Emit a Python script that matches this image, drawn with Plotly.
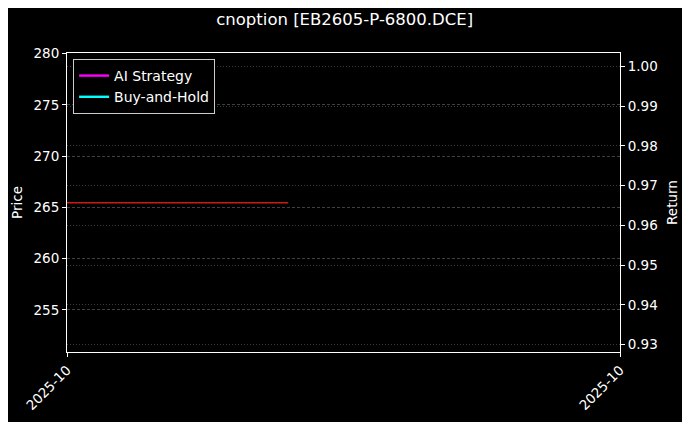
import plotly.graph_objects as go

# ---- data ----
dates = ["2025-10-20", "2025-10-21", "2025-10-22", "2025-10-23", "2025-10-24", "2025-10-25"]
price_dates = dates[:3]
price_values = [265.45, 265.45, 265.45]
ai_strategy = [None, None, None, None, None, None]
buy_and_hold = [None, None, None, None, None, None]
price_ticks = [255, 260, 265, 270, 275, 280]
return_ticks = [0.93, 0.94, 0.95, 0.96, 0.97, 0.98, 0.99, 1.00]
x_tick_text = ["2025-10", "2025-10"]
title = "cnoption [EB2605-P-6800.DCE]"

fig = go.Figure()
fig.add_trace(go.Scatter(x=dates, y=ai_strategy, name="AI Strategy", mode="lines",
                         line=dict(color="#ff00ff", width=2.4), yaxis="y2"))
fig.add_trace(go.Scatter(x=dates, y=buy_and_hold, name="Buy-and-Hold", mode="lines",
                         line=dict(color="#00ffff", width=2.4), yaxis="y2"))
fig.add_trace(go.Scatter(x=price_dates, y=price_values, name="Price", mode="lines",
                         line=dict(color="#d01818", width=1.5), showlegend=False))

FS = 13.5
font = dict(family="DejaVu Sans", size=FS, color="white")
# page body has an 8px default margin; compensate so the plot sits where the reference has it
fig.update_layout(
    width=690, height=422,
    paper_bgcolor="#000000", plot_bgcolor="#000000",
    font=font,
    margin=dict(l=59, r=78, t=45, b=78, autoexpand=False),
    title=dict(text=title, x=0.488, xanchor="center", y=0.974, yanchor="middle",
               font=dict(family="DejaVu Sans", size=16.5, color="white")),
    showlegend=True,
    legend=dict(x=0.011, y=0.98, xanchor="left", yanchor="top",
                bgcolor="#000000", bordercolor="#cccccc", borderwidth=1,
                tracegroupgap=0,
                font=dict(family="DejaVu Sans", size=14, color="white")),
    xaxis=dict(type="date", range=[dates[0], dates[-1]],
               tickvals=[dates[0], dates[-1]], ticktext=x_tick_text,
               tickangle=-45, ticks="outside", ticklen=4, tickcolor="white",
               showline=True, linecolor="white", linewidth=1, mirror=True,
               showgrid=False, zeroline=False, automargin=False),
    yaxis=dict(range=[250.88, 280.06], tickvals=price_ticks,
               title=dict(text="Price", standoff=7, font=dict(size=FS)),
               ticks="outside", ticklen=4, tickcolor="white",
               showline=True, linecolor="white", linewidth=1,
               showgrid=True, gridcolor="#404040", griddash="3px,2px", gridwidth=0.6,
               zeroline=False, automargin=False),
    yaxis2=dict(range=[0.92817, 1.00334], tickvals=return_ticks,
                tickformat=".2f", overlaying="y", side="right",
                title=dict(text="Return", standoff=10, font=dict(size=FS)),
                ticks="outside", ticklen=4, tickcolor="white",
                showline=True, linecolor="white", linewidth=1,
                showgrid=True, gridcolor="#3a3a3a", griddash="1px,2px", gridwidth=0.6,
                zeroline=False, automargin=False),
)

fig.write_html("out.html")
